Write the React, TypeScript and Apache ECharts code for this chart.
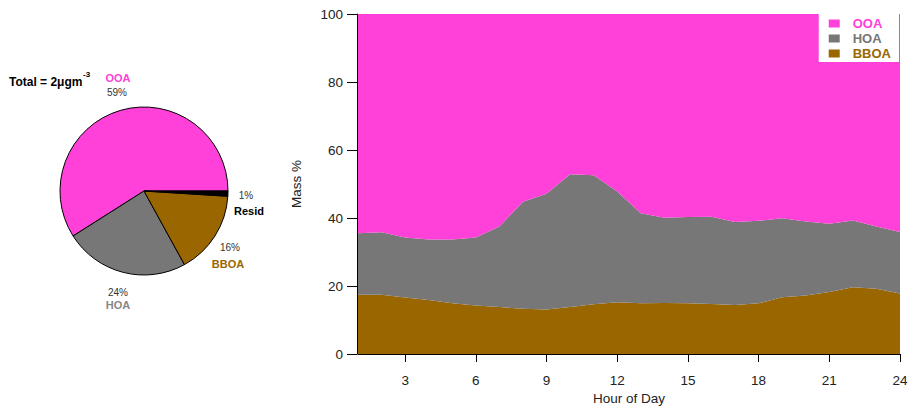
import React, { useEffect, useRef } from "react";
import * as echarts from "echarts";

const hours = [1, 2, 3, 4, 5, 6, 7, 8, 9, 10, 11, 12, 13, 14, 15, 16, 17, 18, 19, 20, 21, 22, 23, 24];
const bboa = [17.4, 17.4, 16.6, 15.9, 14.9, 14.3, 13.8, 13.3, 13.1, 13.8, 14.6, 15.2, 14.9, 15.0, 14.9, 14.7, 14.4, 14.9, 16.7, 17.2, 18.2, 19.6, 19.2, 17.8];
const hoa = [18.1, 18.4, 17.7, 17.8, 18.8, 20.0, 23.7, 31.5, 34.0, 39.1, 38.0, 32.6, 26.5, 25.1, 25.4, 25.7, 24.4, 24.3, 23.2, 21.8, 20.1, 19.7, 18.3, 18.1];
const ooa = [64.5, 64.2, 65.7, 66.3, 66.3, 65.7, 62.5, 55.2, 52.9, 47.1, 47.4, 52.2, 58.6, 59.9, 59.7, 59.6, 61.2, 60.8, 60.1, 61.0, 61.7, 60.7, 62.5, 64.1];
const xTicks = [3, 6, 9, 12, 15, 18, 21, 24];

const pieNames = ["OOA", "HOA", "BBOA", "Resid"];
const pieValues = [59, 24, 16, 1];

const COLORS: Record<string, string> = {
  OOA: "#FF40D9",
  HOA: "#777777",
  BBOA: "#996600",
  Resid: "#000000",
};
const LABEL_COLORS: Record<string, string> = {
  OOA: "#FF40D9",
  HOA: "#888888",
  BBOA: "#996600",
  Resid: "#000000",
};

const LABEL_POS: Record<string, { name: [number, number]; pct: [number, number] }> = {
  OOA: { name: [118, 78], pct: [117, 92] },
  HOA: { name: [118, 305], pct: [118, 292] },
  BBOA: { name: [228, 264], pct: [230, 247] },
  Resid: { name: [249, 211], pct: [246, 195] },
};

const FONT = "Liberation Sans, Arial, sans-serif";

export default function App() {
  const ref = useRef<HTMLDivElement>(null);
  useEffect(() => {
    document.body.style.margin = "0";
    if (!ref.current) return;
    const chart = echarts.init(ref.current, undefined, { renderer: "svg" });
    const total = pieValues.reduce((a, b) => a + b, 0);

    const labelGraphics: any[] = [];
    pieNames.forEach((n, i) => {
      const p = LABEL_POS[n];
      labelGraphics.push({
        type: "text",
        x: p.name[0],
        y: p.name[1],
        style: {
          text: n,
          fill: LABEL_COLORS[n],
          font: `bold 11px ${FONT}`,
          align: "center",
          verticalAlign: "middle",
        },
      });
      labelGraphics.push({
        type: "text",
        x: p.pct[0],
        y: p.pct[1],
        style: {
          text: `${Math.round((pieValues[i] / total) * 100)}%`,
          fill: "#333",
          font: `10px ${FONT}`,
          align: "center",
          verticalAlign: "middle",
        },
      });
    });

    const isTick = (_i: number, v: any) => xTicks.includes(Number(v));

    const mk = (name: string, vals: number[]) => ({
      name,
      type: "line",
      stack: "total",
      data: vals,
      showSymbol: false,
      symbol: "none",
      lineStyle: { width: 0 },
      areaStyle: { color: COLORS[name], opacity: 1 },
      itemStyle: { color: COLORS[name] },
      silent: true,
    });

    chart.setOption({
      animation: false,
      textStyle: { fontFamily: FONT },
      grid: { left: 358, right: 9, top: 14, bottom: 53, outerBoundsMode: "none", containLabel: false },
      xAxis: {
        type: "category",
        data: hours.map(String),
        boundaryGap: false,
        name: "Hour of Day",
        nameLocation: "middle",
        nameGap: 36,
        nameTextStyle: { color: "#222", fontSize: 13.5, fontFamily: FONT },
        offset: 1,
        axisLine: { show: true, lineStyle: { color: "#000", width: 1 } },
        axisTick: { show: true, length: 8, interval: isTick, lineStyle: { color: "#000" } },
        axisLabel: { interval: isTick, color: "#222", fontSize: 13.5, margin: 18, fontFamily: FONT },
        splitLine: { show: false },
      },
      yAxis: {
        type: "value",
        min: 0,
        max: 100,
        interval: 20,
        name: "Mass %",
        nameLocation: "middle",
        nameGap: 54,
        nameTextStyle: { color: "#222", fontSize: 13.5, fontFamily: FONT },
        offset: 1,
        axisLine: { show: true, lineStyle: { color: "#000", width: 1 } },
        axisTick: { show: true, length: 10, lineStyle: { color: "#000" } },
        axisLabel: { color: "#222", fontSize: 13.5, margin: 14, fontFamily: FONT },
        splitLine: { show: false },
      },
      legend: {
        data: ["OOA", "HOA", "BBOA"].map((n) => ({
          name: n,
          icon: "rect",
          itemStyle: { color: COLORS[n] },
          textStyle: { color: COLORS[n], fontWeight: "bold", fontSize: 13, padding: [0, 0, 0, 8] },
        })),
        orient: "vertical",
        right: 10,
        top: 14,
        backgroundColor: "#fff",
        padding: [3, 8, 2, 10],
        itemGap: 2,
        itemWidth: 11,
        itemHeight: 8,
        selectedMode: false,
        textStyle: { fontFamily: FONT },
      },
      series: [
        mk("BBOA", bboa),
        mk("HOA", hoa),
        mk("OOA", ooa),
        {
          type: "pie",
          center: [144, 191],
          radius: 84,
          startAngle: 0,
          clockwise: false,
          label: { show: false },
          labelLine: { show: false },
          silent: true,
          itemStyle: { borderColor: "#000", borderWidth: 1 },
          data: pieNames.map((n, i) => ({
            name: "pie-" + n,
            value: pieValues[i],
            itemStyle: { color: COLORS[n] },
          })),
        },
      ],
      graphic: [
        {
          type: "text",
          x: 9,
          y: 82,
          style: {
            text: "Total = 2μgm",
            fill: "#000",
            font: `bold 12px ${FONT}`,
            verticalAlign: "middle",
          },
        },
        {
          type: "text",
          x: 83,
          y: 74,
          style: {
            text: "-3",
            fill: "#000",
            font: `bold 8px ${FONT}`,
            verticalAlign: "middle",
          },
        },
        ...labelGraphics,
      ],
    });
    return () => chart.dispose();
  }, []);
  return <div ref={ref} style={{ width: 909, height: 407 }} />;
}
